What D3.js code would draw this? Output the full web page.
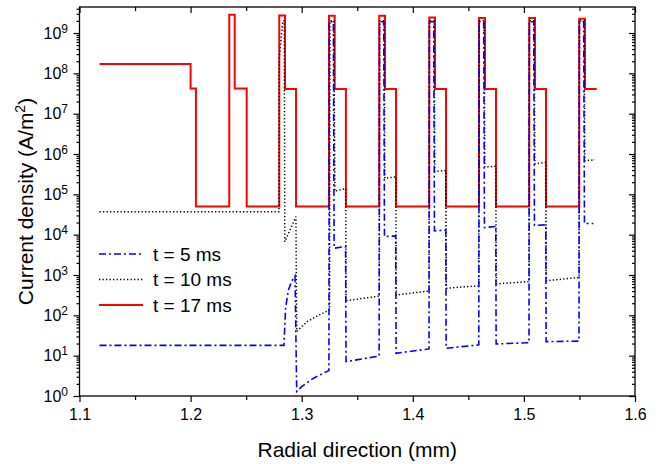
<!DOCTYPE html>
<html>
<head>
<meta charset="utf-8">
<script src="https://cdn.jsdelivr.net/npm/d3@7"></script>
<style>
  body { margin: 0; background: #fff; }
  text { font-family: Arial, "Liberation Sans", sans-serif; fill: #000; }
</style>
</head>
<body>
<div id="chart"></div>
<script>
// x tick values (mm) and y decades
const xTicks = [1.1, 1.2, 1.3, 1.4, 1.5, 1.6];
const xMinorTicks = [1.15, 1.25, 1.35, 1.45, 1.55];
const yDecades = [0, 1, 2, 3, 4, 5, 6, 7, 8, 9];

const seriesNames = ['t = 5 ms', 't = 10 ms', 't = 17 ms'];

// t = 5 ms (blue dash-dot)
const t5 = [
    [1.118, 18], [1.2840, 18], [1.2855, 150], [1.2880, 420], [1.2910, 700], [1.2940, 950],
    [1.2955, 1.3], [1.3000, 1.7], [1.3100, 2.7], [1.3245, 4.3],
    [1.3248, 1.9e9], [1.3285, 1.9e9], [1.3292, 4.6e3], [1.3395, 5.1e3],
    [1.3399, 7.1], [1.3697, 9.8],
    [1.3700, 1.9e9], [1.3738, 1.9e9], [1.3745, 9.0e3], [1.3846, 9.3e3],
    [1.3850, 11.5], [1.4146, 14.7],
    [1.4149, 1.9e9], [1.4188, 1.9e9], [1.4195, 1.24e4], [1.4297, 1.3e4],
    [1.4300, 15.3], [1.4594, 18.5],
    [1.4597, 1.9e9], [1.4638, 1.9e9], [1.4645, 1.5e4], [1.4747, 1.6e4],
    [1.4750, 19.5], [1.5046, 21],
    [1.5049, 1.9e9], [1.5088, 1.9e9], [1.5095, 1.7e4], [1.5197, 1.75e4],
    [1.5200, 22.3], [1.5496, 23],
    [1.5499, 1.9e9], [1.5538, 1.9e9], [1.5545, 1.9e4], [1.5625, 1.9e4]
];

// t = 10 ms (black dotted)
const t10 = [
    [1.118, 3.7e4], [1.2795, 3.7e4], [1.2798, 2.4e8], [1.2830, 2.0e9], [1.2843, 2.0e9],
    [1.2848, 6.7e3], [1.2948, 2.8e4],
    [1.2955, 40], [1.3050, 70], [1.3150, 100], [1.3250, 135],
    [1.3254, 2.0e9], [1.3290, 2.0e9], [1.3298, 1.2e5], [1.3396, 1.4e5],
    [1.3400, 230], [1.3698, 300],
    [1.3702, 2.0e9], [1.3742, 2.0e9], [1.3748, 2.5e5], [1.3847, 2.7e5],
    [1.3851, 320], [1.4146, 400],
    [1.4150, 2.0e9], [1.4192, 2.0e9], [1.4198, 3.7e5], [1.4297, 3.9e5],
    [1.4301, 470], [1.4594, 540],
    [1.4598, 2.0e9], [1.4642, 2.0e9], [1.4648, 4.7e5], [1.4747, 5.0e5],
    [1.4751, 600], [1.5046, 690],
    [1.5050, 2.0e9], [1.5092, 2.0e9], [1.5098, 5.7e5], [1.5197, 6.2e5],
    [1.5201, 720], [1.5496, 870],
    [1.5500, 2.0e9], [1.5542, 2.0e9], [1.5548, 6.8e5], [1.5640, 7.2e5]
];

// t = 17 ms (red solid)
const t17 = [
    [1.118, 1.7e8], [1.2000, 1.7e8], [1.2000, 4.2e7], [1.2048, 4.2e7], [1.2048, 5e4],
    [1.2348, 5e4], [1.2348, 2.84e9], [1.2397, 2.84e9], [1.2397, 4.2e7], [1.2505, 4.2e7], [1.2505, 5e4],
    [1.2798, 5e4], [1.2798, 2.73e9], [1.2850, 2.73e9], [1.2850, 4.1e7], [1.2949, 4.1e7], [1.2949, 5e4],
    [1.3246, 5e4], [1.3246, 2.69e9], [1.3297, 2.69e9], [1.3297, 4.1e7], [1.3398, 4.1e7], [1.3398, 5e4],
    [1.3698, 5e4], [1.3698, 2.69e9], [1.3750, 2.69e9], [1.3750, 4.1e7], [1.3849, 4.1e7], [1.3849, 5e4],
    [1.4148, 5e4], [1.4148, 2.44e9], [1.4200, 2.44e9], [1.4200, 4.1e7], [1.4299, 4.1e7], [1.4299, 5e4],
    [1.4596, 5e4], [1.4596, 2.36e9], [1.4650, 2.36e9], [1.4650, 4.1e7], [1.4749, 4.1e7], [1.4749, 5e4],
    [1.5048, 5e4], [1.5048, 2.36e9], [1.5100, 2.36e9], [1.5100, 4.1e7], [1.5199, 4.1e7], [1.5199, 5e4],
    [1.5498, 5e4], [1.5498, 2.26e9], [1.5550, 2.26e9], [1.5550, 4.1e7], [1.5655, 4.1e7]
];

const width = 660, height = 464;
const plot = { left: 79.5, right: 635, top: 7, bottom: 396 };

const svg = d3.select('#chart')
    .append('svg')
    .attr('width', width)
    .attr('height', height);

const x = d3.scaleLinear()
    .domain([1.1, 1.6])
    .range([plot.left, plot.right]);

const y = d3.scaleLog()
    .domain([1, Math.pow(10, 9.645)])
    .range([plot.bottom, plot.top]);

// clip to plot area
svg.append('defs').append('clipPath')
    .attr('id', 'clip')
    .append('rect')
    .attr('x', plot.left)
    .attr('y', plot.top)
    .attr('width', plot.right - plot.left)
    .attr('height', plot.bottom - plot.top);

const styles = [
    { data: t5, color: '#0000ff', width: 1.6, dash: '7,3,2,3' },
    { data: t10, color: '#000000', width: 1.5, dash: '1.3,2.2' },
    { data: t17, color: '#ff0000', width: 2, dash: null }
];

const line = d3.line()
    .x(d => x(d[0]))
    .y(d => y(d[1]));

const lines = svg.append('g').attr('clip-path', 'url(#clip)');

// draw red first so the others sit on top of it
[2, 1, 0].forEach(i => {
    const s = styles[i];
    lines.append('path')
        .datum(s.data)
        .attr('fill', 'none')
        .attr('stroke', s.color)
        .attr('stroke-width', s.width)
        .attr('stroke-dasharray', s.dash)
        .attr('stroke-linejoin', 'miter')
        .attr('d', line);
});

// Axes
const yMinor = [];
yDecades.forEach(e => {
    for (let k = 2; k <= 9; k++) {
        const v = k * Math.pow(10, e);
        if (y(v) >= plot.top) yMinor.push(v);
    }
});
const yMajor = yDecades.map(e => Math.pow(10, e));

function styleAxis(g) {
    g.select('.domain').remove();
    g.selectAll('.tick line').attr('stroke', '#000').attr('stroke-width', 1.2);
}

// bottom
svg.append('g')
    .attr('transform', `translate(0,${plot.bottom})`)
    .call(d3.axisBottom(x).tickValues(xTicks).tickSize(6).tickFormat(d3.format('.1f')))
    .call(styleAxis)
    .call(g => g.selectAll('text')
        .attr('y', 13)
        .attr('dy', '0.71em')
        .style('font-size', '16px')
        .style('font-family', 'Arial, "Liberation Sans", sans-serif'));
svg.append('g')
    .attr('transform', `translate(0,${plot.bottom})`)
    .call(d3.axisBottom(x).tickValues(xMinorTicks).tickSize(4).tickFormat(''))
    .call(styleAxis);

// top (inward)
svg.append('g')
    .attr('transform', `translate(0,${plot.top})`)
    .call(d3.axisBottom(x).tickValues(xTicks).tickSize(6).tickFormat(''))
    .call(styleAxis);
svg.append('g')
    .attr('transform', `translate(0,${plot.top})`)
    .call(d3.axisBottom(x).tickValues(xMinorTicks).tickSize(4).tickFormat(''))
    .call(styleAxis);

// left
svg.append('g')
    .attr('transform', `translate(${plot.left},0)`)
    .call(d3.axisLeft(y).tickValues(yMajor).tickSize(6).tickFormat(''))
    .call(styleAxis);
svg.append('g')
    .attr('transform', `translate(${plot.left},0)`)
    .call(d3.axisLeft(y).tickValues(yMinor).tickSize(3).tickFormat(''))
    .call(styleAxis);

// right (inward)
svg.append('g')
    .attr('transform', `translate(${plot.right},0)`)
    .call(d3.axisLeft(y).tickValues(yMajor).tickSize(6).tickFormat(''))
    .call(styleAxis);
svg.append('g')
    .attr('transform', `translate(${plot.right},0)`)
    .call(d3.axisLeft(y).tickValues(yMinor).tickSize(3).tickFormat(''))
    .call(styleAxis);

// y tick labels 10^n
const yLabels = svg.append('g');
yDecades.forEach(e => {
    const t = yLabels.append('text')
        .attr('x', 68)
        .attr('y', y(Math.pow(10, e)) + 5.8)
        .attr('text-anchor', 'end')
        .style('font-size', '16px');
    t.append('tspan').text('10');
    t.append('tspan')
        .attr('dy', -6)
        .style('font-size', '12px')
        .text(e);
});

// frame
svg.append('rect')
    .attr('x', plot.left)
    .attr('y', plot.top)
    .attr('width', plot.right - plot.left)
    .attr('height', plot.bottom - plot.top)
    .attr('fill', 'none')
    .attr('stroke', '#000')
    .attr('stroke-width', 1.3);

// axis titles
svg.append('text')
    .attr('x', (plot.left + plot.right) / 2)
    .attr('y', 456.5)
    .attr('text-anchor', 'middle')
    .style('font-size', '21px')
    .text('Radial direction (mm)');

const yTitle = svg.append('text')
    .attr('transform', `translate(33,${(plot.top + plot.bottom) / 2}) rotate(-90)`)
    .attr('text-anchor', 'middle')
    .style('font-size', '21px');
yTitle.append('tspan').text('Current density (A/m');
yTitle.append('tspan').attr('dy', -8).style('font-size', '14px').text('2');
yTitle.append('tspan').attr('dy', 8).text(')');

// legend
const legendRows = [254, 279.5, 305];
const legend = svg.append('g');
styles.forEach((s, i) => {
    legend.append('line')
        .attr('x1', 99)
        .attr('x2', 143)
        .attr('y1', legendRows[i])
        .attr('y2', legendRows[i])
        .attr('stroke', s.color)
        .attr('stroke-width', s.width)
        .attr('stroke-dasharray', s.dash);
    legend.append('text')
        .attr('x', 153)
        .attr('y', legendRows[i] + 6.5)
        .style('font-size', '19px')
        .text(seriesNames[i]);
});
</script>
</body>
</html>
